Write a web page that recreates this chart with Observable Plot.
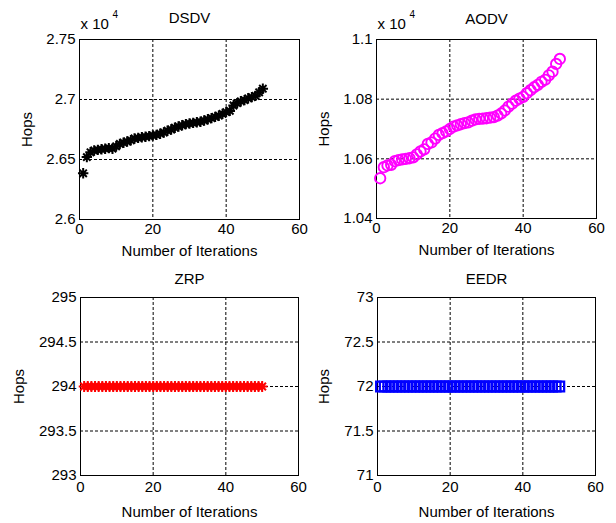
<!DOCTYPE html>
<html>
<head>
<meta charset="utf-8">
<script src="https://cdn.jsdelivr.net/npm/d3@7"></script>
<script src="https://cdn.jsdelivr.net/npm/@observablehq/plot@0.6"></script>
<style>
  html, body { margin: 0; padding: 0; background: #fff; }
  #wrap { position: relative; width: 616px; height: 523px; overflow: hidden; background: #fff; }
  #wrap svg { position: absolute; }
</style>
</head>
<body>
<div id="wrap"></div>
<script>
// ---- data ----
const iterations = [1,2,3,4,5,6,7,8,9,10,11,12,13,14,15,16,17,18,19,20,21,22,23,24,25,26,27,28,29,30,31,32,33,34,35,36,37,38,39,40,41,42,43,44,45,46,47,48,49,50];

const dsdvHops = [26385,26520,26560,26575,26580,26585,26590,26595,26590,26610,
                  26630,26640,26650,26660,26675,26680,26685,26690,26695,26700,
                  26705,26715,26725,26740,26750,26765,26775,26785,26795,26800,
                  26805,26810,26815,26825,26835,26845,26855,26865,26880,26895,
                  26905,26950,26970,26985,26995,27010,27020,27030,27060,27090];

const aodvHops = [10535,10572,10578,10580,10592,10596,10598,10600,10602,10605,
                  10615,10625,10632,10650,10655,10668,10680,10686,10692,10700,
                  10708,10712,10716,10720,10722,10728,10732,10734,10735,10736,
                  10738,10740,10745,10752,10762,10775,10785,10795,10802,10808,
                  10820,10830,10840,10848,10858,10865,10880,10892,10918,10935];

const zrpHops = [294,294,294,294,294,294,294,294,294,294,
                 294,294,294,294,294,294,294,294,294,294,
                 294,294,294,294,294,294,294,294,294,294,
                 294,294,294,294,294,294,294,294,294,294,
                 294,294,294,294,294,294,294,294,294,294];

const eedrHops = [72,72,72,72,72,72,72,72,72,72,
                  72,72,72,72,72,72,72,72,72,72,
                  72,72,72,72,72,72,72,72,72,72,
                  72,72,72,72,72,72,72,72,72,72,
                  72,72,72,72,72,72,72,72,72,72];

const xTicks = [0, 20, 40, 60];
const dsdvTicks = [26000, 26500, 27000, 27500];
const aodvTicks = [10400, 10600, 10800, 11000];
const zrpTicks = [293, 293.5, 294, 294.5, 295];
const eedrTicks = [71, 71.5, 72, 72.5, 73];

const titles = ["DSDV", "AODV", "ZRP", "EEDR"];
const xLabel = "Number of Iterations";
const yLabel = "Hops";
const exponentBase = "x 10";
const exponent = "4";

// MATLAB-like '*' marker (plus + cross)
const matlabStar = {
  draw(ctx, size) {
    const r = Math.sqrt(size / Math.PI);
    const d = r * Math.SQRT1_2;
    ctx.moveTo(-r, 0); ctx.lineTo(r, 0);
    ctx.moveTo(0, -r); ctx.lineTo(0, r);
    ctx.moveTo(-d, -d); ctx.lineTo(d, d);
    ctx.moveTo(-d, d); ctx.lineTo(d, -d);
  }
};

const FONT = "'Liberation Sans', Arial, Helvetica, sans-serif";

function panel(cfg) {
  const data = iterations.map((x, i) => ({x, y: cfg.values[i]}));
  const gridY = cfg.yTicks.slice(1, -1);
  const marks = [
    Plot.gridX([20, 40], {stroke: "black", strokeOpacity: 1, strokeWidth: 1, strokeDasharray: "3,2"}),
    Plot.gridY(gridY, {stroke: "black", strokeOpacity: 1, strokeWidth: 1, strokeDasharray: "3,2"}),
    Plot.frame({stroke: "black", strokeWidth: 1}),
    Plot.axisX(xTicks, {tickSize: 0, tickPadding: cfg.xPad, fontSize: 15, label: xLabel, labelAnchor: "center", labelOffset: cfg.xLabelOffset, labelArrow: "none"}),
    Plot.axisY(cfg.yTicks, {tickSize: 0, tickPadding: 4, fontSize: 15, tickFormat: cfg.tickFormat, label: yLabel, labelAnchor: "center", labelOffset: cfg.yLabelOffset, labelArrow: "none"}),
    Plot.text([cfg.title], {frameAnchor: "top", lineAnchor: "middle", dy: cfg.titleDy, text: d => d, fontSize: 15}),
    Plot.dot(data, {x: "x", y: "y", symbol: cfg.symbol, r: cfg.r, stroke: cfg.color, fill: "none", strokeWidth: cfg.sw})
  ];
  if (cfg.exp) {
    marks.push(Plot.text([exponentBase], {frameAnchor: "top-left", textAnchor: "start", lineAnchor: "middle", dx: 1, dy: -15, text: d => d, fontSize: 15}));
    marks.push(Plot.text([exponent], {frameAnchor: "top-left", textAnchor: "start", lineAnchor: "middle", dx: 33, dy: -25, text: d => d, fontSize: 10}));
  }
  const svg = Plot.plot({
    width: cfg.width, height: cfg.height,
    marginLeft: cfg.ml, marginRight: cfg.mr, marginTop: cfg.mt, marginBottom: cfg.mb,
    style: {fontFamily: FONT, fontSize: "15px", background: "transparent", overflow: "visible", color: "black"},
    x: {domain: [0, 60]},
    y: {domain: [cfg.yTicks[0], cfg.yTicks[cfg.yTicks.length - 1]]},
    marks
  });
  svg.style.left = cfg.left + "px";
  svg.style.top = cfg.top + "px";
  document.getElementById("wrap").appendChild(svg);
}

const fmt4 = d => String(+(d / 1e4).toFixed(3));
const fmt = d => String(d);

panel({title: titles[0], values: dsdvHops, yTicks: dsdvTicks, tickFormat: fmt4, exp: true,
  left: 0, top: 0, width: 308, height: 260, ml: 79, mr: 9, mt: 39, mb: 41,
  xPad: 4, xLabelOffset: 36, yLabelOffset: 58, titleDy: -21,
  symbol: matlabStar, r: 5.2, color: "black", sw: 2});

panel({title: titles[1], values: aodvHops, yTicks: aodvTicks, tickFormat: fmt4, exp: true,
  left: 308, top: 0, width: 308, height: 260, ml: 68, mr: 20, mt: 39, mb: 42,
  xPad: 4, xLabelOffset: 36, yLabelOffset: 58, titleDy: -20,
  symbol: "circle", r: 5.2, color: "#ff00ff", sw: 1.9});

panel({title: titles[2], values: zrpHops, yTicks: zrpTicks, tickFormat: fmt, exp: false,
  left: 0, top: 260, width: 308, height: 263, ml: 80, mr: 10, mt: 37, mb: 48,
  xPad: 6, xLabelOffset: 41, yLabelOffset: 67, titleDy: -18,
  symbol: matlabStar, r: 5.4, color: "#ff0000", sw: 2});

panel({title: titles[3], values: eedrHops, yTicks: eedrTicks, tickFormat: fmt, exp: false,
  left: 308, top: 260, width: 308, height: 263, ml: 69, mr: 21, mt: 37, mb: 48,
  xPad: 6, xLabelOffset: 41, yLabelOffset: 59, titleDy: -18,
  symbol: "square", r: 5.6, color: "#0000ff", sw: 2.3});
</script>
</body>
</html>
